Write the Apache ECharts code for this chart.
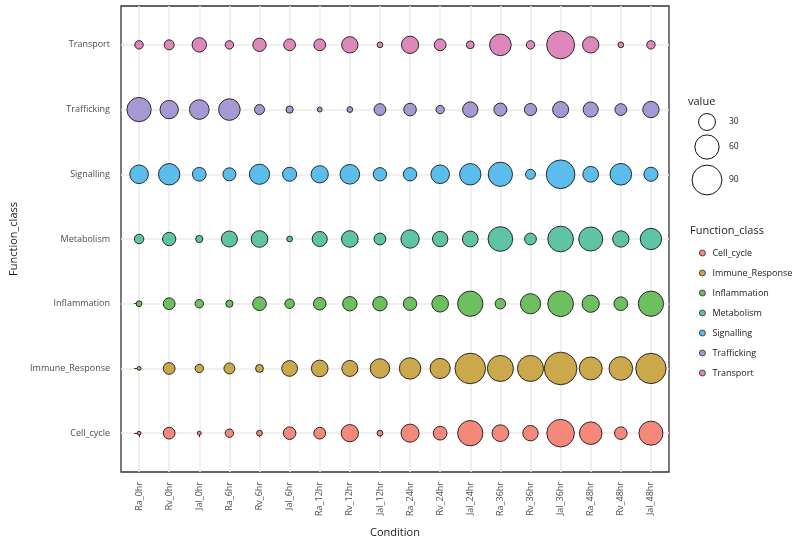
<!DOCTYPE html>
<html>
<head>
<meta charset="utf-8">
<script src="https://cdn.jsdelivr.net/npm/echarts@6/dist/echarts.min.js"></script>
<style>html,body{margin:0;padding:0;background:#fff}#c{width:800px;height:541px}</style>
</head>
<body>
<div id="c"></div>
<script>
const conditions = ['Ra_0hr','Rv_0hr','Jal_0hr','Ra_6hr','Rv_6hr','Jal_6hr','Ra_12hr','Rv_12hr','Jal_12hr','Ra_24hr','Rv_24hr','Jal_24hr','Ra_36hr','Rv_36hr','Jal_36hr','Ra_48hr','Rv_48hr','Jal_48hr'];
const classes = ['Cell_cycle','Immune_Response','Inflammation','Metabolism','Signalling','Trafficking','Transport'];
const cellCycle      = [2, 15, 2, 8, 4, 17, 15, 31, 4, 34, 20, 65, 29, 25, 77, 52, 17, 59];
const immuneResponse = [2, 15, 8, 13, 7, 26, 29, 27, 39, 47, 42, 94, 69, 69, 107, 54, 57, 93];
const inflammation   = [4, 15, 8, 6, 20, 10, 17, 22, 22, 19, 29, 65, 12, 42, 67, 31, 20, 65];
const metabolism     = [10, 19, 6, 27, 29, 4, 24, 29, 15, 35, 25, 26, 62, 15, 67, 59, 28, 47];
const signalling     = [36, 47, 20, 18, 42, 21, 31, 40, 19, 19, 36, 47, 60, 11, 83, 26, 48, 21];
const trafficking    = [60, 35, 40, 48, 11, 6, 3, 4, 15, 17, 8, 25, 18, 16, 27, 24, 15, 28];
const transport      = [8, 11, 22, 8, 19, 15, 15, 28, 4, 31, 15, 7, 48, 8, 79, 28, 4, 8];
const sizeLegendValues = [30, 60, 90];
const colors = ['#F4887B', '#CBA84C', '#6DBF5F', '#5EC4A5', '#5BBDEB', '#A699D3', '#DE87BA'];

const seriesValues = [cellCycle, immuneResponse, inflammation, metabolism, signalling, trafficking, transport];
const sizeOf = v => 3.22 * Math.sqrt(v) - 0.7;
const font = '"Open Sans", "Noto Sans", sans-serif';

const chart = echarts.init(document.getElementById('c'), null, {renderer: 'canvas'});
const idx = conditions.map((_, i) => i);
const yIdx = classes.map((_, i) => i);

const series = classes.map((name, k) => ({
  name: name,
  type: 'scatter',
  data: seriesValues[k].map((v, i) => [i, k, v]),
  symbol: 'circle',
  symbolSize: d => sizeOf(d[2]),
  itemStyle: {color: colors[k], borderColor: '#2a2a2a', borderWidth: 1, opacity: 1},
  emphasis: {disabled: true},
  z: 3
}));

const graphics = [
  {type: 'text', left: 688, top: 96, style: {text: 'value', fontSize: 11, fontFamily: font, fill: '#1a1a1a'}},
  {type: 'text', left: 690, top: 225, style: {text: 'Function_class', fontSize: 11, fontFamily: font, fill: '#1a1a1a'}}
];
const legendY = [122, 147, 180];
sizeLegendValues.forEach((v, i) => {
  graphics.push({type: 'circle', shape: {cx: 707, cy: legendY[i], r: sizeOf(v) / 2}, style: {fill: '#fff', stroke: '#111', lineWidth: 1}});
  graphics.push({type: 'text', x: 729, y: legendY[i], style: {text: String(v), fontSize: 8.5, fontFamily: font, fill: '#1a1a1a', verticalAlign: 'middle'}});
});

chart.setOption({
  animation: false,
  backgroundColor: '#fff',
  grid: {left: 121, top: 6, width: 548, height: 466, show: true, borderColor: '#333', borderWidth: 1.3, backgroundColor: 'transparent', containLabel: false, outerBoundsMode: 'none'},
  xAxis: {
    type: 'value', min: -0.6, max: 17.6,
    name: 'Condition', nameLocation: 'middle', nameGap: 55,
    nameTextStyle: {fontSize: 11, fontFamily: font, color: '#1a1a1a'},
    axisLine: {show: false},
    axisTick: {show: true, customValues: idx, length: 4, lineStyle: {color: '#333', width: 1}},
    axisLabel: {customValues: idx, rotate: 90, margin: 10, fontSize: 9, fontFamily: font, color: '#4d4d4d', formatter: v => conditions[Math.round(v)]},
    splitLine: {show: true, lineStyle: {color: '#EBEBEB', width: 1.5}}
  },
  yAxis: {
    type: 'value', min: -0.6, max: 6.6,
    name: 'Function_class', nameLocation: 'middle', nameGap: 102, nameRotate: 90,
    nameTextStyle: {fontSize: 11, fontFamily: font, color: '#1a1a1a'},
    axisLine: {show: false},
    axisTick: {show: true, customValues: yIdx, length: 5, lineStyle: {color: '#333', width: 1}},
    axisLabel: {customValues: yIdx, margin: 11, fontSize: 9, fontFamily: font, color: '#4d4d4d', formatter: v => classes[Math.round(v)]},
    splitLine: {show: true, lineStyle: {color: '#EBEBEB', width: 1.5}}
  },
  legend: {
    data: classes,
    orient: 'vertical', left: 694, top: 242,
    icon: 'circle', itemWidth: 6, itemHeight: 6, itemGap: 8,
    textStyle: {fontSize: 9, fontFamily: font, color: '#1a1a1a', lineHeight: 12, padding: [0, 0, 0, 2]},
    itemStyle: {borderColor: '#2a2a2a', borderWidth: 0.8},
    selectedMode: false
  },
  series: series,
  graphic: graphics
});
</script>
</body>
</html>
